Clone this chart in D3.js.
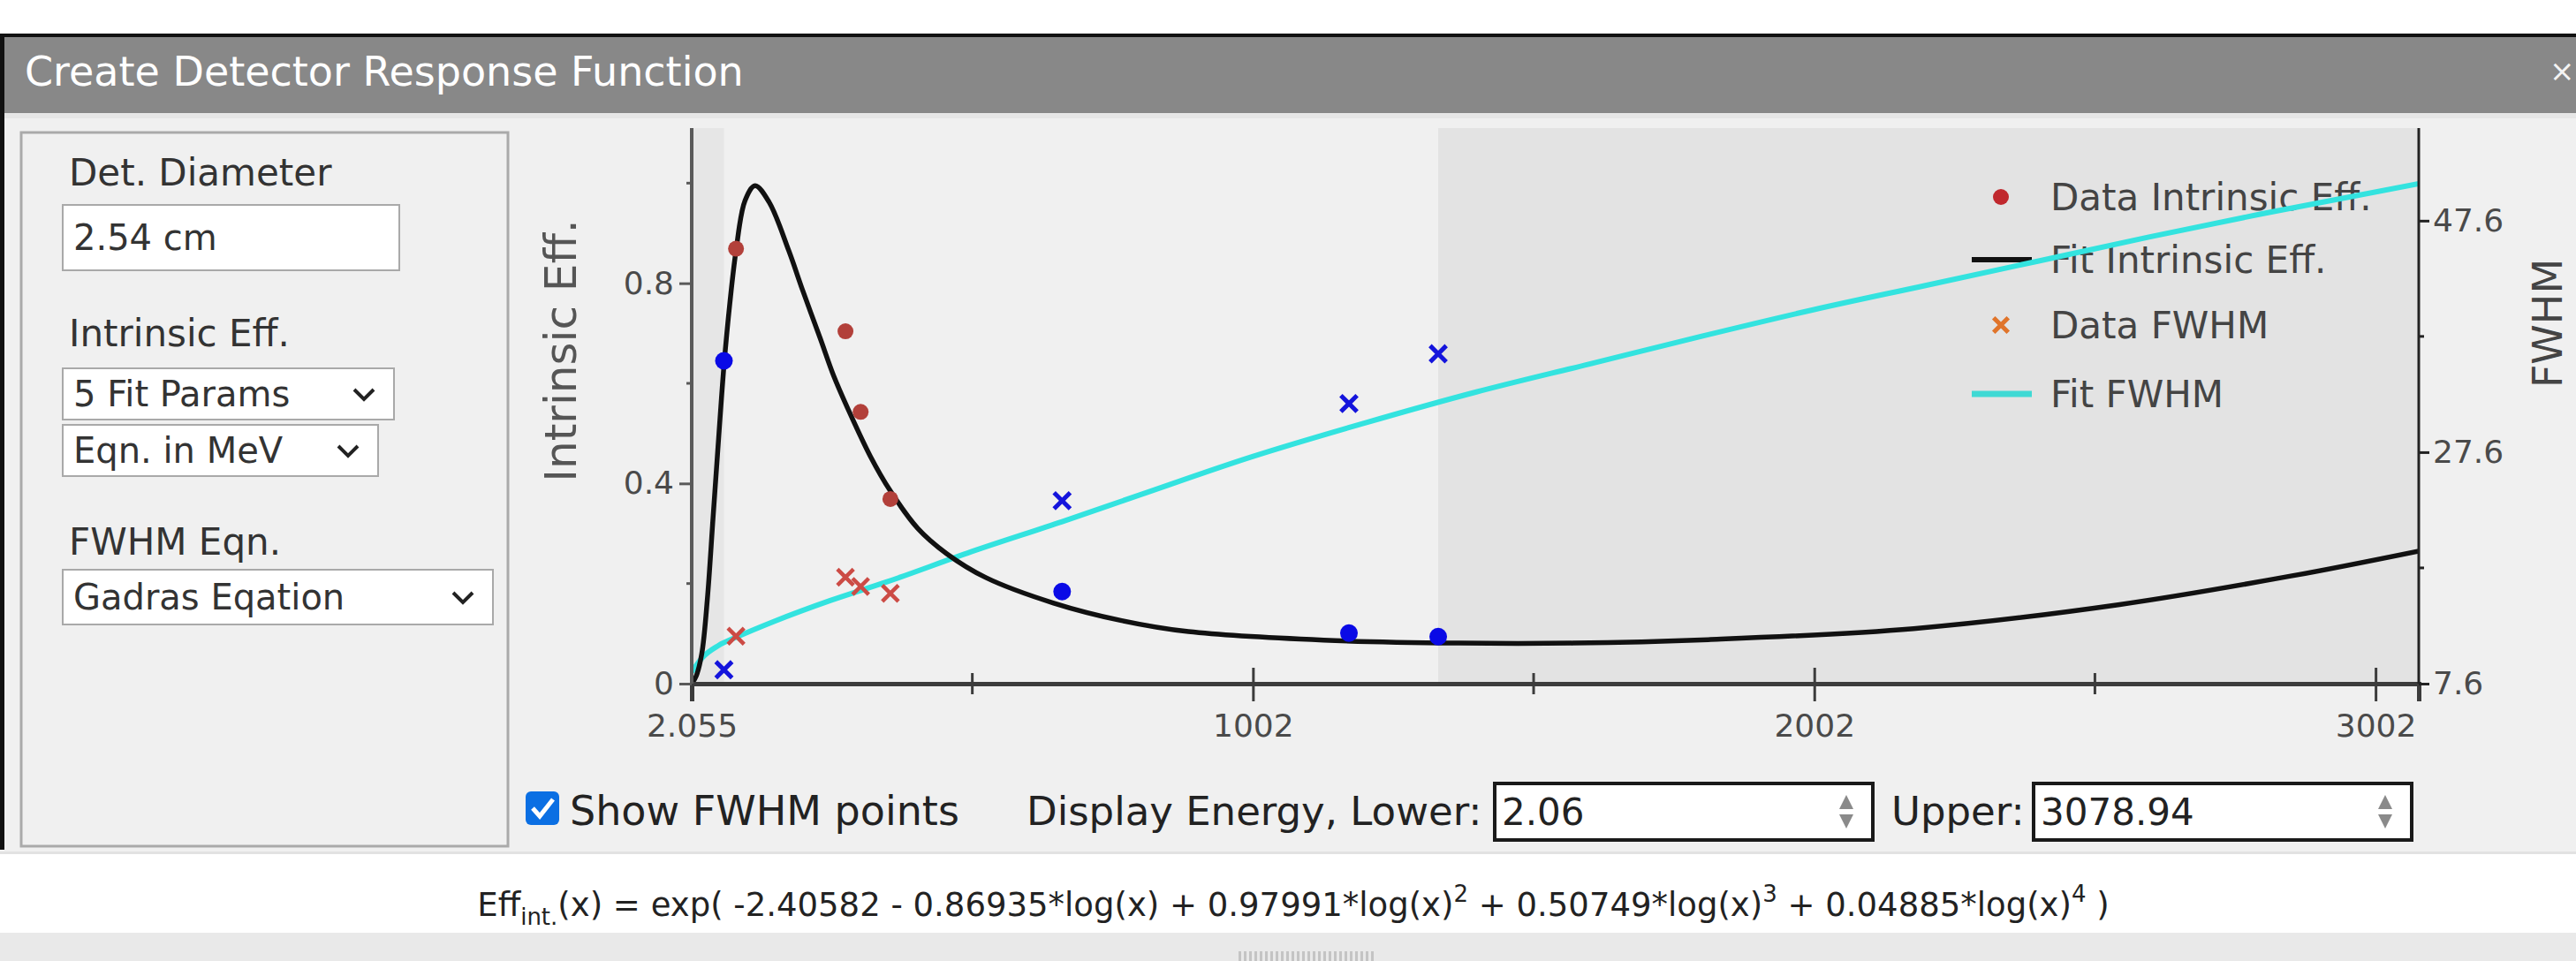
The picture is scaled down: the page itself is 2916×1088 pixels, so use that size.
<!DOCTYPE html>
<html>
<head>
<meta charset="utf-8">
<script src="https://cdn.jsdelivr.net/npm/d3@7"></script>
<style>
  html, body { margin: 0; padding: 0; background: #fff; }
  svg { display: block; }
  text { font-family: 'DejaVu Sans', sans-serif; }
</style>
</head>
<body>
<div id="app"></div>
<script>
// energies in keV
const energyTicks = [2.055, 1002, 2002, 3002]
const energyTickLabels = ['2.055', '1002', '2002', '3002']
const energyMinorTicks = [502, 1502, 2502]
const effTicks = [0, 0.4, 0.8]
const effTickLabels = ['0', '0.4', '0.8']
const effMinorTicks = [0.2, 0.6, 1.0]
const fwhmTicks = [7.6, 27.6, 47.6]
const fwhmMinorTicks = [17.6, 37.6]

// measured points (red = Ba-133 lines, blue = Am-241 / Cs-137 / Co-60)
const redEnergy = [81, 276, 303, 356]
const redEff = [0.869, 0.704, 0.543, 0.369]
const redFwhm = [11.7, 16.8, 16.0, 15.4]
const blueEnergy = [59.5, 662, 1173, 1332]
const blueEff = [0.645, 0.184, 0.101, 0.094]
const blueFwhm = [8.8, 23.4, 31.8, 36.1]

// fitted curves
const fitEffEnergy = [2.06, 10, 20, 30, 40, 50, 59.5, 70, 81, 97, 115, 140, 175, 200, 231, 255, 280, 320, 356, 405, 456, 526, 647, 768, 887, 1128, 1369, 1572, 1813, 2179, 2546, 2851, 3079]
const fitEffValue = [0.0, 0.015, 0.06, 0.17, 0.33, 0.49, 0.635, 0.76, 0.865, 0.965, 0.995, 0.962, 0.865, 0.785, 0.69, 0.615, 0.55, 0.455, 0.385, 0.31, 0.26, 0.212, 0.161, 0.126, 0.104, 0.087, 0.081, 0.081, 0.088, 0.11, 0.158, 0.215, 0.265]
const fitFwhmEnergy = [2.06, 20, 50, 81, 150, 250, 350, 500, 662, 800, 1000, 1200, 1400, 1600, 1800, 2000, 2200, 2400, 2600, 2800, 3079]
const fitFwhmValue = [8.6, 9.8, 10.9, 11.6, 13.0, 14.8, 16.4, 19.0, 21.6, 23.9, 27.2, 30.1, 32.8, 35.2, 37.6, 39.9, 42.0, 44.1, 46.2, 48.2, 50.8]

const legendLabels = ['Data Intrinsic Eff.', 'Fit Intrinsic Eff.', 'Data FWHM', 'Fit FWHM']

const displayLower = 2.06
const displayUpper = 3078.94
const detDiameter = '2.54 cm'
const effParamsOption = '5 Fit Params'
const effUnitsOption = 'Eqn. in MeV'
const fwhmEqnOption = 'Gadras Eqation'
const effCoefs = ['-2.40582', '0.86935', '0.97991', '0.50749', '0.04885']

const W = 2916
const H = 1088
const plot = {left: 783, right: 2738, top: 145, bottom: 774}

const svg = d3.select('#app')
  .append('svg')
  .attr('width', W)
  .attr('height', H)

// ---- dialog frame ----
svg.append('rect').attr('width', W).attr('height', H).attr('fill', '#fff')
svg.append('rect').attr('x', 0).attr('y', 128).attr('width', W).attr('height', 840).attr('fill', '#f0f0f0')
svg.append('rect').attr('x', 0).attr('y', 38).attr('width', W).attr('height', 90).attr('fill', '#888')
svg.append('rect').attr('x', 0).attr('y', 38).attr('width', W).attr('height', 4).attr('fill', '#111')
svg.append('rect').attr('x', 0).attr('y', 128).attr('width', W).attr('height', 6).attr('fill', '#e6e6e6')
svg.append('rect').attr('x', 0).attr('y', 38).attr('width', 5).attr('height', 924).attr('fill', '#111')
svg.append('text')
  .attr('x', 28).attr('y', 97)
  .attr('fill', '#fff')
  .style('font-size', '46px')
  .text('Create Detector Response Function')
svg.append('text')
  .attr('x', 2886).attr('y', 92)
  .attr('fill', '#f4f4f4')
  .style('font-size', '34px')
  .text('×')

// ---- left option panel ----
const panel = svg.append('g')
panel.append('rect')
  .attr('x', 24).attr('y', 150).attr('width', 551).attr('height', 808)
  .attr('fill', '#f0f0f0').attr('stroke', '#aaa').attr('stroke-width', 3)

function label (g, x, y, txt) {
  g.append('text').attr('x', x).attr('y', y)
    .attr('fill', '#333').style('font-size', '42px').text(txt)
}
function field (g, x, y, w, h, txt, arrow) {
  g.append('rect').attr('x', x).attr('y', y).attr('width', w).attr('height', h)
    .attr('fill', '#fff').attr('stroke', '#a9a9a9').attr('stroke-width', 2)
  g.append('text').attr('x', x + 12).attr('y', y + h / 2 + 14)
    .attr('fill', '#333').style('font-size', '40px').text(txt)
  if (arrow) {
    const ax = x + w - 34
    const ay = y + h / 2
    g.append('path')
      .attr('d', `M${ax - 11},${ay - 5}L${ax},${ay + 6}L${ax + 11},${ay - 5}`)
      .attr('fill', 'none').attr('stroke', '#222').attr('stroke-width', 4)
  }
}
label(panel, 78, 210, 'Det. Diameter')
field(panel, 71, 232, 381, 74, detDiameter, false)
label(panel, 78, 392, 'Intrinsic Eff.')
field(panel, 71, 417, 375, 58, effParamsOption, true)
field(panel, 71, 481, 357, 58, effUnitsOption, true)
label(panel, 78, 628, 'FWHM Eqn.')
field(panel, 71, 645, 487, 62, fwhmEqnOption, true)

// ---- chart ----
const x = d3.scaleLinear().domain([2.055, displayUpper]).range([plot.left, plot.right])
const yEff = d3.scaleLinear().domain([0, 1.11]).range([plot.bottom, plot.top])
const yFwhm = d3.scaleLinear().domain([7.6, 55.6]).range([plot.bottom, plot.top])

const chart = svg.append('g')
svg.append('clipPath').attr('id', 'plotclip')
  .append('rect')
  .attr('x', plot.left).attr('y', plot.top)
  .attr('width', plot.right - plot.left).attr('height', plot.bottom - plot.top)

// shaded energy ranges outside the calibration points
const allEnergy = redEnergy.concat(blueEnergy)
const eMin = d3.min(allEnergy)
const eMax = d3.max(allEnergy)
chart.append('rect')
  .attr('x', x(2.055)).attr('y', plot.top)
  .attr('width', x(eMin) - x(2.055)).attr('height', plot.bottom - plot.top)
  .attr('fill', '#e6e6e6')
chart.append('rect')
  .attr('x', x(eMax)).attr('y', plot.top)
  .attr('width', x(displayUpper) - x(eMax)).attr('height', plot.bottom - plot.top)
  .attr('fill', '#e3e3e3')

// legend (drawn under the curves like the original)
const legend = chart.append('g').attr('transform', 'translate(2265,0)')
const legendRows = [223, 294, 368, 446]
legend.append('circle').attr('cx', 0).attr('cy', legendRows[0]).attr('r', 9).attr('fill', '#c0282d')
legend.append('line').attr('x1', -33).attr('x2', 35).attr('y1', legendRows[1]).attr('y2', legendRows[1])
  .attr('stroke', '#111').attr('stroke-width', 6)
legend.append('path').attr('d', d3.symbol(d3.symbolX, 180)())
  .attr('transform', `translate(0,${legendRows[2]})`)
  .attr('stroke', '#e0742a').attr('stroke-width', 5)
legend.append('line').attr('x1', -33).attr('x2', 35).attr('y1', legendRows[3]).attr('y2', legendRows[3])
  .attr('stroke', '#3fd9d4').attr('stroke-width', 7)
legend.selectAll('text.lg')
  .data(legendLabels)
  .enter()
  .append('text')
  .attr('class', 'lg')
  .attr('x', 56)
  .attr('y', (d, i) => legendRows[i] + 15)
  .attr('fill', '#444')
  .style('font-size', '42px')
  .text(d => d)

const curves = chart.append('g').attr('clip-path', 'url(#plotclip)')
const fitFwhm = d3.zip(fitFwhmEnergy, fitFwhmValue)
curves.append('path')
  .attr('d', d3.line().x(d => x(d[0])).y(d => yFwhm(d[1])).curve(d3.curveMonotoneX)(fitFwhm))
  .attr('fill', 'none').attr('stroke', '#33e3df').attr('stroke-width', 6)
const fitEff = d3.zip(fitEffEnergy, fitEffValue)
curves.append('path')
  .attr('d', d3.line().x(d => x(d[0])).y(d => yEff(d[1])).curve(d3.curveCatmullRom.alpha(0.5))(fitEff))
  .attr('fill', 'none').attr('stroke', '#111').attr('stroke-width', 5.5)

// data points
const xmark = d3.symbol(d3.symbolX, 220)()
curves.selectAll('path.fr')
  .data(d3.zip(redEnergy, redFwhm))
  .enter().append('path').attr('class', 'fr')
  .attr('d', xmark)
  .attr('transform', d => `translate(${x(d[0])},${yFwhm(d[1])})`)
  .attr('stroke', '#cc4b45').attr('stroke-width', 4.5)
curves.selectAll('path.fb')
  .data(d3.zip(blueEnergy, blueFwhm))
  .enter().append('path').attr('class', 'fb')
  .attr('d', xmark)
  .attr('transform', d => `translate(${x(d[0])},${yFwhm(d[1])})`)
  .attr('stroke', '#1414dc').attr('stroke-width', 5)
curves.selectAll('circle.er')
  .data(d3.zip(redEnergy, redEff))
  .enter().append('circle').attr('class', 'er')
  .attr('cx', d => x(d[0])).attr('cy', d => yEff(d[1])).attr('r', 9)
  .attr('fill', '#b2403a')
curves.selectAll('circle.eb')
  .data(d3.zip(blueEnergy, blueEff))
  .enter().append('circle').attr('class', 'eb')
  .attr('cx', d => x(d[0])).attr('cy', d => yEff(d[1])).attr('r', 10)
  .attr('fill', '#0a0ae6')

// axes
const xAxis = chart.append('g')
  .attr('transform', `translate(0,${plot.bottom})`)
  .call(d3.axisBottom(x).tickValues(energyTicks).tickFormat((d, i) => energyTickLabels[i]).tickSizeOuter(0).tickSize(20).tickPadding(14))
xAxis.select('.domain').attr('stroke', '#3c3c3c').attr('stroke-width', 5)
xAxis.selectAll('.tick line').attr('y1', -18).attr('stroke', '#3c3c3c').attr('stroke-width', 3)
xAxis.selectAll('.tick text').attr('fill', '#4a4a4a').style('font-size', '36px').style('font-family', "'DejaVu Sans', sans-serif")
xAxis.selectAll('line.minor')
  .data(energyMinorTicks)
  .enter().append('line').attr('class', 'minor')
  .attr('x1', d => x(d)).attr('x2', d => x(d)).attr('y1', -12).attr('y2', 12)
  .attr('stroke', '#3c3c3c').attr('stroke-width', 3)

const yAxis = chart.append('g')
  .attr('transform', `translate(${plot.left},0)`)
  .call(d3.axisLeft(yEff).tickValues(effTicks).tickFormat((d, i) => effTickLabels[i]).tickSizeOuter(0).tickSize(14).tickPadding(6))
yAxis.select('.domain').attr('stroke', '#5a5a5a').attr('stroke-width', 4).attr('d', `M0,${plot.top}V${plot.bottom}`)
yAxis.selectAll('.tick line').attr('stroke', '#5a5a5a').attr('stroke-width', 3)
yAxis.selectAll('.tick text').attr('fill', '#4a4a4a').style('font-size', '36px').style('font-family', "'DejaVu Sans', sans-serif")
yAxis.selectAll('line.minor')
  .data(effMinorTicks)
  .enter().append('line').attr('class', 'minor')
  .attr('x1', -6).attr('x2', 0).attr('y1', d => yEff(d)).attr('y2', d => yEff(d))
  .attr('stroke', '#5a5a5a').attr('stroke-width', 3)

const yAxisR = chart.append('g')
  .attr('transform', `translate(${plot.right},0)`)
  .call(d3.axisRight(yFwhm).tickValues(fwhmTicks).tickFormat(d3.format('.1f')).tickSizeOuter(0).tickSize(12).tickPadding(4))
yAxisR.select('.domain').attr('stroke', '#222').attr('stroke-width', 3).attr('d', `M0,${plot.top}V${plot.bottom}`)
yAxisR.selectAll('.tick line').attr('stroke', '#222').attr('stroke-width', 3)
yAxisR.selectAll('.tick text').attr('fill', '#4a4a4a').style('font-size', '36px').style('font-family', "'DejaVu Sans', sans-serif")
yAxisR.selectAll('line.minor')
  .data(fwhmMinorTicks)
  .enter().append('line').attr('class', 'minor')
  .attr('x1', 0).attr('x2', 6).attr('y1', d => yFwhm(d)).attr('y2', d => yFwhm(d))
  .attr('stroke', '#222').attr('stroke-width', 3)

chart.append('text')
  .attr('transform', 'translate(652,397) rotate(-90)')
  .attr('text-anchor', 'middle')
  .attr('fill', '#555')
  .style('font-size', '50px')
  .text('Intrinsic Eff.')
chart.append('text')
  .attr('transform', 'translate(2900,366) rotate(-90)')
  .attr('text-anchor', 'middle')
  .attr('fill', '#444')
  .style('font-size', '46px')
  .text('FWHM')

// ---- controls under the chart ----
const ctl = svg.append('g')
ctl.append('rect').attr('x', 595).attr('y', 896).attr('width', 38).attr('height', 38).attr('rx', 6).attr('fill', '#0b6fe3')
ctl.append('path').attr('d', 'M603,915L611,924L626,905')
  .attr('fill', 'none').attr('stroke', '#fff').attr('stroke-width', 5)
ctl.append('text').attr('x', 645).attr('y', 934).attr('fill', '#222').style('font-size', '46px').text('Show FWHM points')
ctl.append('text').attr('x', 1162).attr('y', 934).attr('fill', '#222').style('font-size', '45px').text('Display Energy, Lower:')
ctl.append('text').attr('x', 2141).attr('y', 934).attr('fill', '#222').style('font-size', '45px').text('Upper:')

function spinBox (g, x0, w, val) {
  g.append('rect').attr('x', x0).attr('y', 887).attr('width', w).attr('height', 64)
    .attr('fill', '#fff').attr('stroke', '#1a1a1a').attr('stroke-width', 4)
  g.append('text').attr('x', x0 + 8).attr('y', 934).attr('fill', '#222').style('font-size', '42px').text(val)
  const sx = x0 + w - 30
  g.append('path').attr('d', `M${sx - 8},${916}L${sx},${900}L${sx + 8},${916}Z`).attr('fill', '#8a8a8a')
  g.append('path').attr('d', `M${sx - 8},${922}L${sx},${938}L${sx + 8},${922}Z`).attr('fill', '#8a8a8a')
}
spinBox(ctl, 1692, 428, d3.format('.2f')(displayLower))
spinBox(ctl, 2302, 428, d3.format('.2f')(displayUpper))

// ---- equation bar ----
svg.append('rect').attr('x', 0).attr('y', 966).attr('width', W).attr('height', 90).attr('fill', '#fff')
svg.append('rect').attr('x', 0).attr('y', 964).attr('width', W).attr('height', 3).attr('fill', '#e2e2e2')
svg.append('rect').attr('x', 0).attr('y', 1056).attr('width', W).attr('height', 32).attr('fill', '#e9e9e9')
const grip = svg.append('g')
d3.range(1402, 1555, 6).forEach(gx => {
  grip.append('rect').attr('x', gx).attr('y', 1077).attr('width', 3).attr('height', 11).attr('fill', '#c4c4c4')
})

const eq = svg.append('text')
  .attr('x', W / 2 + 6).attr('y', 1037)
  .attr('text-anchor', 'middle')
  .attr('fill', '#222')
  .style('font-size', '37px')
const pieces = [
  ['Eff', 0], ['int.', 1], ['(x) = exp( ' + effCoefs[0] + ' - ' + effCoefs[1] + '*log(x) + ' + effCoefs[2] + '*log(x)', -1],
  ['2', 2], [' + ' + effCoefs[3] + '*log(x)', -2], ['3', 2], [' + ' + effCoefs[4] + '*log(x)', -2], ['4', 2], [' )', -2]
]
const shift = {0: 0, 1: 10, '-1': -10, 2: -16, '-2': 16}
pieces.forEach(p => {
  eq.append('tspan')
    .attr('dy', shift[p[1]])
    .style('font-size', p[1] > 0 ? '26px' : '37px')
    .text(p[0])
})
</script>
</body>
</html>
